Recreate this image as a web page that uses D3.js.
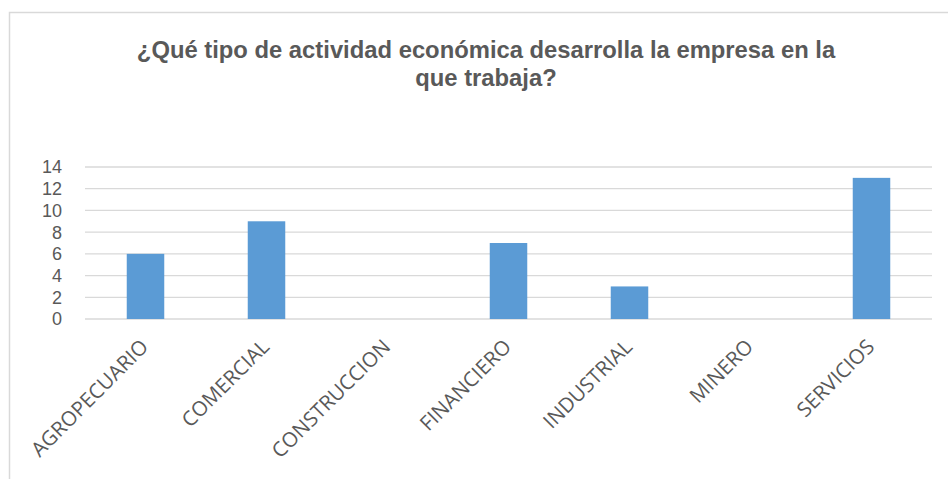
<!DOCTYPE html>
<html>
<head>
<meta charset="utf-8">
<script src="https://cdn.jsdelivr.net/npm/d3@7"></script>
<style>
  body { margin: 0; background: #fff; }
</style>
</head>
<body>
<div id="chart"></div>
<script>
// data
var categories = ["AGROPECUARIO", "COMERCIAL", "CONSTRUCCION", "FINANCIERO", "INDUSTRIAL", "MINERO", "SERVICIOS"];
var values = [6, 9, 0, 7, 3, 0, 13];
var yTicks = [0, 2, 4, 6, 8, 10, 12, 14];
var titleLines = ["¿Qué tipo de actividad económica desarrolla la empresa en la", "que trabaja?"];

var W = 948, H = 479;
var margin = {top: 167, right: 16, bottom: 160, left: 85};
var width = W - margin.left - margin.right,
    height = H - margin.top - margin.bottom;

var svg = d3.select("#chart")
  .append("svg")
    .attr("width", W)
    .attr("height", H);

// outer frame
svg.append("rect")
  .attr("x", 9.5)
  .attr("y", 12.5)
  .attr("width", W + 20)
  .attr("height", H + 20)
  .attr("fill", "none")
  .attr("stroke", "#d9d9d9")
  .attr("stroke-width", 1.5);

// title
svg.append("text")
  .attr("text-anchor", "middle")
  .attr("font-family", "Liberation Sans, Arial, sans-serif")
  .attr("font-weight", "bold")
  .attr("font-size", "23.8px")
  .attr("fill", "#595959")
  .selectAll("tspan")
  .data(titleLines)
  .join("tspan")
    .attr("x", 486)
    .attr("y", (d, i) => 58 + i * 28)
    .text(d => d);

var g = svg.append("g")
  .attr("transform", "translate(" + margin.left + "," + margin.top + ")");

var x = d3.scaleBand()
  .domain(categories)
  .range([0, width])
  .paddingInner(0.69)
  .paddingOuter(0.345);

var y = d3.scaleLinear()
  .domain([0, 14])
  .range([height, 0]);

// gridlines
g.selectAll(".grid")
  .data(yTicks)
  .join("line")
  .attr("x1", 0)
  .attr("x2", width)
  .attr("y1", d => y(d))
  .attr("y2", d => y(d))
  .attr("stroke", "#d9d9d9")
  .attr("stroke-width", 1.3);

// y labels
g.selectAll(".ylab")
  .data(yTicks)
  .join("text")
  .attr("x", -23)
  .attr("y", d => y(d))
  .attr("dy", "0.36em")
  .attr("text-anchor", "end")
  .attr("font-family", "Liberation Sans, Arial, sans-serif")
  .attr("font-size", "18px")
  .attr("fill", "#595959")
  .text(d => d);

// bars
g.selectAll(".bar")
  .data(values)
  .join("rect")
  .attr("x", (d, i) => x(categories[i]))
  .attr("y", d => y(d))
  .attr("width", x.bandwidth())
  .attr("height", d => height - y(d))
  .attr("fill", "#5b9bd5");

// x labels
g.selectAll(".xlab")
  .data(categories)
  .join("text")
  .attr("transform", d => "translate(" + (x(d) + x.bandwidth() / 2 - 1) + "," + (height + 24) + ") rotate(-45)")
  .attr("text-anchor", "end")
  .attr("dy", "0.35em")
  .attr("font-family", "Open Sans, sans-serif")
  .attr("font-size", "20.5px")
  .attr("fill", "#595959")
  .text(d => d);
</script>
</body>
</html>
